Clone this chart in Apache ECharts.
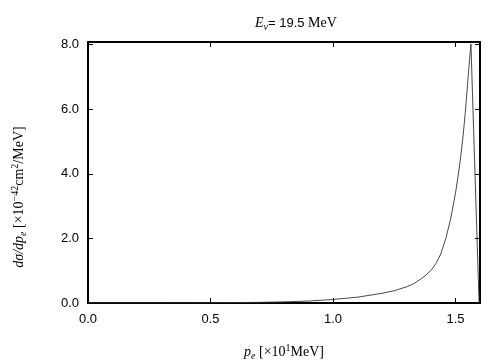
<!DOCTYPE html>
<html>
<head>
<meta charset="utf-8">
<script src="https://cdn.jsdelivr.net/npm/echarts@6/dist/echarts.min.js"></script>
<style>
html, body { margin: 0; padding: 0; background: #fff; }
#chart { width: 504px; height: 360px; }
</style>
</head>
<body>
<div id="chart"></div>
<script>
// electron momentum [x10 MeV] and cross section [x10^-42 cm^2/MeV]
const pe = [0, 0.2, 0.4, 0.5, 0.6, 0.7, 0.8, 0.9, 1.0, 1.1, 1.2, 1.25, 1.3, 1.33, 1.36, 1.38, 1.4, 1.42, 1.44, 1.46, 1.48, 1.5, 1.51, 1.52, 1.53, 1.54, 1.55, 1.557, 1.563, 1.596, 1.6]
const dsig = [0, 0, 0.003, 0.006, 0.012, 0.02, 0.035, 0.06, 0.11, 0.18, 0.3, 0.38, 0.5, 0.6, 0.75, 0.87, 1.01, 1.22, 1.52, 1.98, 2.6, 3.4, 3.9, 4.45, 5.1, 5.9, 6.85, 7.5, 8.02, 0.05, 0]
const xTicks = [0, 0.5, 1.0, 1.5]
const yTicks = [0, 2, 4, 6, 8]

const serif = "Liberation Serif"
const sans = "Liberation Sans"
const frame = { show: true, onZero: false, lineStyle: { color: "#000", width: 2 } }
const tick = { show: true, inside: true, length: 5, lineStyle: { color: "#000", width: 1 } }
const sub = (style, size) => ({ fontFamily: serif, fontSize: size, color: "#000", lineHeight: 18, ...style })

const chart = echarts.init(document.getElementById("chart"))
chart.setOption({
    animation: false,
    title: {
        left: 250, top: 9,
        text: "{e|E}{nu|ν}{n|= 19.5 }{m|MeV}",
        textStyle: {
            fontWeight: "normal",
            rich: {
                e: sub({ fontStyle: "italic", verticalAlign: "middle" }, 14),
                nu: sub({ fontStyle: "italic", verticalAlign: "bottom" }, 10),
                n: { fontFamily: sans, fontSize: 13, color: "#000", lineHeight: 18, verticalAlign: "middle" },
                m: sub({ verticalAlign: "middle" }, 14)
            }
        }
    },
    graphic: [{
        type: "text", x: 19, y: 197, rotation: Math.PI / 2,
        style: {
            text: "{i|dσ/dp}{s|e}{t| [×10}{u|−42}{t|cm}{u|2}{t|/MeV]}",
            align: "center", verticalAlign: "middle",
            rich: {
                i: sub({ fontStyle: "italic", verticalAlign: "middle" }, 14),
                s: sub({ fontStyle: "italic", verticalAlign: "bottom" }, 10),
                t: sub({ verticalAlign: "middle" }, 14),
                u: sub({ verticalAlign: "top" }, 10)
            }
        }
    }],
    grid: { left: 88, right: 24, top: 42, bottom: 57, outerBoundsMode: "none", containLabel: false },
    xAxis: [{
        type: "value", min: 0, max: 1.6, interval: 0.5,
        axisLine: frame, axisTick: tick, splitLine: { show: false },
        axisLabel: {
            color: "#000", fontFamily: sans, fontSize: 13, margin: 10,
            showMaxLabel: false,
            formatter: v => xTicks.includes(+v.toFixed(2)) ? v.toFixed(1) : ""
        },
        name: "{p|p}{s|e}{t| [×10}{u|1}{t|MeV]}",
        nameLocation: "middle", nameGap: 40,
        nameTextStyle: {
            rich: {
                p: sub({ fontStyle: "italic", verticalAlign: "middle" }, 14),
                s: sub({ fontStyle: "italic", verticalAlign: "bottom" }, 10),
                t: sub({ verticalAlign: "middle" }, 14),
                u: sub({ verticalAlign: "top" }, 10)
            }
        }
    }, {
        type: "value", position: "top", min: 0, max: 1.6, interval: 0.5,
        axisLine: frame, axisTick: tick, axisLabel: { show: false }, splitLine: { show: false }
    }],
    yAxis: [{
        type: "value", min: 0, max: 8.08, interval: 2,
        axisLine: frame, axisTick: tick, splitLine: { show: false },
        axisLabel: {
            color: "#000", fontFamily: sans, fontSize: 13, margin: 9,
            showMaxLabel: false,
            formatter: v => yTicks.includes(+v.toFixed(2)) ? v.toFixed(1) : ""
        }
    }, {
        type: "value", position: "right", min: 0, max: 8.08, interval: 2,
        axisLine: frame, axisTick: tick, axisLabel: { show: false }, splitLine: { show: false }
    }],
    series: [{
        type: "line",
        data: pe.map((p, i) => [p, dsig[i]]),
        showSymbol: false,
        smooth: false,
        lineStyle: { color: "#333", width: 0.9 }
    }]
})
</script>
</body>
</html>
